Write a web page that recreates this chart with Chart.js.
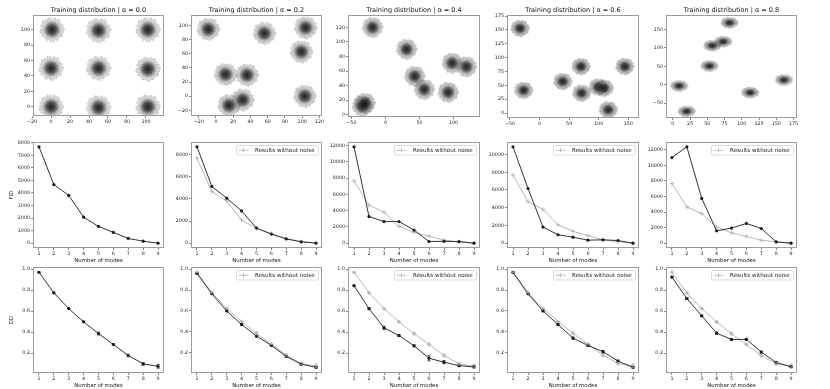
<!DOCTYPE html>
<html><head><meta charset="utf-8">
<script src="https://cdn.jsdelivr.net/npm/chart.js@4.4.1/dist/chart.umd.min.js"></script>
<style>
html,body{margin:0;padding:0;background:#fff}
body{width:830px;height:389px;position:relative;overflow:hidden}
.p{position:absolute}
</style></head><body>
<script>
// ---------------- data ----------------
const alphas = ['0.0', '0.2', '0.4', '0.6', '0.8'];
const modes = [1, 2, 3, 4, 5, 6, 7, 8, 9];

// cluster centres of the training distributions (one per mode)
const clustersA00 = [[1,100],[50,99],[102,100],[0,50],[50,50],[102,49],[0,0],[50,-1],[102,0]];
const clustersA02 = [[-9,95],[56,89],[104,97],[99,63],[11,31],[36,30],[15,-13],[31,-5],[103,0]];
const clustersA04 = [[-19,120],[31,90],[43,53],[57,35],[98,71],[119,66],[92,31],[-34,12],[-30,16]];
const clustersA06 = [[-33,153],[-27,41],[39,57],[70,84],[71,36],[99,47],[109,45],[116,6],[144,84]];
const clustersA08 = [[82,168],[73,117],[57,106],[53,51],[9,-3],[20,-72],[112,-21],[161,13]];

// FID
const fidNoNoise = [7680, 4670, 3810, 2070, 1340, 860, 376, 160, 0];
const fidA02 = [8700, 5120, 4060, 2910, 1360, 820, 390, 120, 10];
const fidA04 = [11870, 3280, 2660, 2660, 1620, 210, 230, 200, 0];
const fidA06 = [10870, 6170, 1820, 950, 680, 340, 380, 300, 0];
const fidA08 = [11010, 12390, 5760, 1590, 1940, 2540, 1890, 170, 0];

// DD (with error half-widths)
const ddNoNoise = [0.971, 0.775, 0.624, 0.498, 0.386, 0.283, 0.177, 0.097, 0.074];
const ddErrNoNoise = [0.004, 0.006, 0.005, 0.006, 0.013, 0.006, 0.012, 0.011, 0.018];
const ddA02 = [0.960, 0.765, 0.600, 0.470, 0.360, 0.270, 0.165, 0.090, 0.060];
const ddErrA02 = [0.004, 0.005, 0.006, 0.008, 0.008, 0.006, 0.008, 0.008, 0.008];
const ddA04 = [0.843, 0.624, 0.441, 0.367, 0.270, 0.151, 0.113, 0.080, 0.068];
const ddErrA04 = [0.005, 0.010, 0.015, 0.008, 0.010, 0.025, 0.015, 0.008, 0.010];
const ddA06 = [0.970, 0.765, 0.600, 0.470, 0.340, 0.270, 0.210, 0.120, 0.060];
const ddErrA06 = [0.004, 0.006, 0.006, 0.008, 0.010, 0.008, 0.012, 0.010, 0.008];
const ddA08 = [0.925, 0.720, 0.555, 0.390, 0.330, 0.330, 0.210, 0.110, 0.070];
const ddErrA08 = [0.006, 0.008, 0.006, 0.008, 0.008, 0.010, 0.010, 0.010, 0.008];

const noiseLabel = 'Results without noise';
const titlePrefix = 'Training distribution | \u03b1 = ';
const xLabel = 'Number of modes';
const fidLabel = 'FID';
const ddLabel = 'DD';

// tick labels
const scatXTicks = [[-20,0,20,40,60,80,100],[-20,0,20,40,60,80,100,120],[-50,0,50,100],[-50,0,50,100,150],[0,25,50,75,100,125,150,175]];
const scatYTicks = [[0,20,40,60,80,100],[-20,0,20,40,60,80,100],[0,20,40,60,80,100,120],[0,25,50,75,100,125,150,175],[-50,0,50,100,150]];
const scatXLim = [[-19,119],[-29,123],[-55,139],[-55,168],[-10,180]];
const scatYLim = [[-12,119],[-28,115],[-3,137],[-9,177],[-90,189]];
const fidTicks = [[0,1000,2000,3000,4000,5000,6000,7000,8000],[0,2000,4000,6000,8000],[0,2000,4000,6000,8000,10000,12000],[0,2000,4000,6000,8000,10000],[0,2000,4000,6000,8000,10000,12000]];
const ddTicks = [0.2, 0.4, 0.6, 0.8, 1.0];

// ---------------- layout / style ----------------
const COL_L = [33, 191, 348, 507, 666], COL_R = [164, 322, 480, 639, 797];
const ROW_T = [15, 142, 267], ROW_B = [116, 248, 373];
const ROW0_B = [116, 116, 117, 118, 118];
const FONT = '"DejaVu Sans", sans-serif';
const YW = 30, PR = 30;
const BLACK = '#1c1c1c', GRAY = '#b0b0b0';
const clusterSize = [12, 11, 10, 9, 8.5];
const clusterFlat = [1, 1, 1, 1.1, 1.55];

function fmtInt(v){ return v < 0 ? '\u2212' + Math.abs(v) : String(v); }
function fmtDD(v){ return v.toFixed(1); }

function clusterSprite(R, flat){
  const SW = Math.ceil(R*2 + 4), SH = Math.ceil(2*R/flat + 4), c = document.createElement('canvas');
  c.width = SW; c.height = SH;
  const g = c.getContext('2d'), mx = SW/2, my = SH/2;
  g.save(); g.translate(mx, my); g.scale(1, 1/flat);
  const N = 90, ga = Math.PI*(3 - Math.sqrt(5));
  for (let i = 0; i < N; i++){
    const r = R*Math.sqrt((i + 0.5)/N), t = i*ga;
    g.fillStyle = 'rgba(60,60,60,0.32)';
    g.beginPath(); g.arc(r*Math.cos(t), r*Math.sin(t), 1.1, 0, Math.PI*2); g.fill();
  }
  const grad = g.createRadialGradient(0, 0, 0, 0, 0, R*0.75);
  grad.addColorStop(0, 'rgba(20,20,20,0.95)');
  grad.addColorStop(0.5, 'rgba(30,30,30,0.7)');
  grad.addColorStop(1, 'rgba(50,50,50,0)');
  g.fillStyle = grad; g.beginPath(); g.arc(0, 0, R*0.75, 0, Math.PI*2); g.fill();
  g.restore();
  return c;
}

const errorBars = {
  id: 'errorBars',
  afterDatasetsDraw(chart){
    const ctx = chart.ctx, xs = chart.scales.x, ys = chart.scales.y;
    chart.data.datasets.forEach(ds => {
      if (!ds.errors) return;
      ctx.save(); ctx.strokeStyle = ds.borderColor; ctx.lineWidth = 0.7;
      ds.data.forEach((p, i) => {
        const e = ds.errors[i]; if (!e) return;
        const px = xs.getPixelForValue(p.x), y1 = ys.getPixelForValue(p.y - e), y2 = ys.getPixelForValue(p.y + e);
        ctx.beginPath();
        ctx.moveTo(px, y1); ctx.lineTo(px, y2);
        ctx.moveTo(px - 1.6, y1); ctx.lineTo(px + 1.6, y1);
        ctx.moveTo(px - 1.6, y2); ctx.lineTo(px + 1.6, y2);
        ctx.stroke();
      });
      ctx.restore();
    });
  }
};
const frame = {
  id: 'frame',
  afterDatasetsDraw(chart){
    const {ctx, chartArea: a} = chart;
    ctx.save(); ctx.strokeStyle = '#9c9c9c'; ctx.lineWidth = 1;
    ctx.strokeRect(Math.round(a.left) + 0.5, Math.round(a.top) + 0.5, Math.round(a.right - a.left) - 1, Math.round(a.bottom - a.top) - 1);
    ctx.restore();
  }
};
const insideLegend = {
  id: 'insideLegend',
  afterDraw(chart, args, opts){
    if (!opts || !opts.show) return;
    const ds = chart.data.datasets.find(d => d.inLegend); if (!ds) return;
    const {ctx, chartArea: a} = chart;
    const w = 82, h = 9.5, x = a.right - 3.5 - w, y = a.top + 3.5;
    ctx.save();
    ctx.fillStyle = 'rgba(255,255,255,0.9)'; ctx.strokeStyle = '#d2d2d2'; ctx.lineWidth = 0.8;
    ctx.beginPath(); ctx.roundRect(x, y, w, h, 1.5); ctx.fill(); ctx.stroke();
    const cy = y + h/2;
    ctx.strokeStyle = ds.borderColor; ctx.lineWidth = 0.8;
    ctx.beginPath(); ctx.moveTo(x + 2, cy); ctx.lineTo(x + 12, cy);
    ctx.moveTo(x + 7, cy - 2.2); ctx.lineTo(x + 7, cy + 2.2); ctx.stroke();
    ctx.fillStyle = '#222'; ctx.font = '5.6px ' + FONT; ctx.textBaseline = 'middle'; ctx.textAlign = 'left';
    ctx.fillText(ds.label, x + 18.5, cy + 0.3);
    ctx.restore();
  }
};

function panel(o){
  const L = COL_L[o.col], R = COL_R[o.col], T = ROW_T[o.row];
  const B = o.row === 0 ? ROW0_B[o.col] : ROW_B[o.row];
  const topH = o.title ? 15 : 6;
  const xh = o.xTitle ? 16 : 10;
  const W = R - L + YW + PR, H = B - T + topH + xh + 3;
  const div = document.createElement('div'); div.className = 'p';
  div.style.left = (L - YW) + 'px'; div.style.top = (T - topH) + 'px';
  const cv = document.createElement('canvas'); cv.width = W; cv.height = H;
  cv.style.width = W + 'px'; cv.style.height = H + 'px';
  div.appendChild(cv); document.body.appendChild(div);
  const tickFont = {family: FONT, size: 4.8};
  const gridOpt = {display: true, drawOnChartArea: false, drawTicks: true, tickLength: 2, color: '#333', lineWidth: 0.6};
  new Chart(cv, {
    type: o.type,
    data: {datasets: o.datasets},
    options: {
      responsive: false, animation: false, devicePixelRatio: 1,
      events: [],
      layout: {padding: {left: 0, right: 0, top: o.title ? 0 : topH, bottom: 3}},
      plugins: {
        legend: {display: false}, tooltip: {enabled: false},
        title: {display: !!o.title, text: o.title || '', color: '#111', font: {family: FONT, size: 6.5, weight: 'normal'}, padding: {top: 6, bottom: 1.2}},
        insideLegend: {show: !!o.legend}
      },
      scales: {
        x: {
          type: 'linear', min: o.xMin, max: o.xMax,
          afterBuildTicks: s => { s.ticks = o.xTicks.map(v => ({value: v})); },
          afterFit: s => { s.height = xh; s.paddingLeft = 0; s.paddingRight = 0; },
          grid: gridOpt, border: {display: false},
          ticks: {font: tickFont, color: '#222', padding: 0.5, maxRotation: 0, autoSkip: false, callback: o.xFmt || fmtInt},
          title: {display: !!o.xTitle, text: o.xTitle || '', color: '#111', font: {family: FONT, size: 5.4}, padding: {top: 0, bottom: 0}}
        },
        y: {
          type: 'linear', position: 'left', min: o.yMin, max: o.yMax,
          afterBuildTicks: s => { s.ticks = o.yTicks.map(v => ({value: v})); },
          afterFit: s => { s.width = YW; s.paddingTop = 0; s.paddingBottom = 0; },
          grid: gridOpt, border: {display: false},
          ticks: {font: tickFont, color: '#222', padding: 1, autoSkip: false, callback: o.yFmt || fmtInt},
          title: {display: !!o.yTitle, text: o.yTitle || '', color: '#111', font: {family: FONT, size: 5.4}, padding: {top: 5, bottom: 0}}
        },
        spacer: {
          type: 'linear', position: 'right', min: 0, max: 1, display: true,
          afterFit: s => { s.width = PR; s.paddingTop = 0; s.paddingBottom = 0; },
          grid: {display: false}, border: {display: false}, ticks: {display: false}, title: {display: false}
        }
      }
    },
    plugins: [errorBars, frame, insideLegend]
  });
}

function autoLim(series){
  let lo = Infinity, hi = -Infinity;
  series.forEach(s => s.v.forEach((v, i) => { const e = s.e ? s.e[i] : 0; lo = Math.min(lo, v - e); hi = Math.max(hi, v + e); }));
  const p = 0.05*(hi - lo); return [lo - p, hi + p];
}
function pts(vals){ return modes.map((m, i) => ({x: m, y: vals[i]})); }
function blackDs(vals, errs){
  return {label: 'with noise', data: pts(vals), borderColor: BLACK, backgroundColor: BLACK, borderWidth: 0.9,
    pointRadius: 1.6, pointBackgroundColor: BLACK, pointBorderWidth: 0, tension: 0, errors: errs, order: 0};
}
function grayDs(vals, errs){
  return {label: noiseLabel, data: pts(vals), borderColor: GRAY, backgroundColor: GRAY, borderWidth: 0.9,
    pointStyle: 'cross', pointRadius: 2.2, pointBorderColor: GRAY, pointBorderWidth: 0.8, tension: 0, errors: errs, inLegend: true, order: 1};
}

// ---------------- row 1: training distributions ----------------
const clusterSets = [clustersA00, clustersA02, clustersA04, clustersA06, clustersA08];
clusterSets.forEach((cl, c) => {
  const sprite = clusterSprite(clusterSize[c], clusterFlat[c]);
  panel({row: 0, col: c, type: 'scatter', title: titlePrefix + alphas[c],
    xMin: scatXLim[c][0], xMax: scatXLim[c][1], yMin: scatYLim[c][0], yMax: scatYLim[c][1],
    xTicks: scatXTicks[c], yTicks: scatYTicks[c],
    datasets: [{data: cl.map(([x, y]) => ({x, y})), pointStyle: sprite, pointRadius: clusterSize[c], clip: 0, showLine: false}]
  });
});

// ---------------- row 2: FID ----------------
const fidSets = [fidNoNoise, fidA02, fidA04, fidA06, fidA08];
fidSets.forEach((vals, c) => {
  const series = c === 0 ? [{v: vals}] : [{v: vals}, {v: fidNoNoise}];
  const [lo, hi] = autoLim(series);
  const ds = c === 0 ? [blackDs(vals)] : [blackDs(vals), grayDs(fidNoNoise)];
  panel({row: 1, col: c, type: 'line', xTitle: xLabel, yTitle: c === 0 ? fidLabel : null, legend: c > 0,
    xMin: 0.6, xMax: 9.4, yMin: lo, yMax: hi, xTicks: modes, yTicks: fidTicks[c], datasets: ds});
});

// ---------------- row 3: DD ----------------
const ddSets = [[ddNoNoise, ddErrNoNoise], [ddA02, ddErrA02], [ddA04, ddErrA04], [ddA06, ddErrA06], [ddA08, ddErrA08]];
ddSets.forEach(([vals, errs], c) => {
  const series = c === 0 ? [{v: vals, e: errs}] : [{v: vals, e: errs}, {v: ddNoNoise, e: ddErrNoNoise}];
  const [lo, hi] = autoLim(series);
  const ds = c === 0 ? [blackDs(vals, errs)] : [blackDs(vals, errs), grayDs(ddNoNoise, ddErrNoNoise)];
  panel({row: 2, col: c, type: 'line', xTitle: xLabel, yTitle: c === 0 ? ddLabel : null, legend: c > 0,
    xMin: 0.6, xMax: 9.4, yMin: lo, yMax: hi, xTicks: modes, yTicks: ddTicks, yFmt: fmtDD, datasets: ds});
});
</script>
</body></html>
